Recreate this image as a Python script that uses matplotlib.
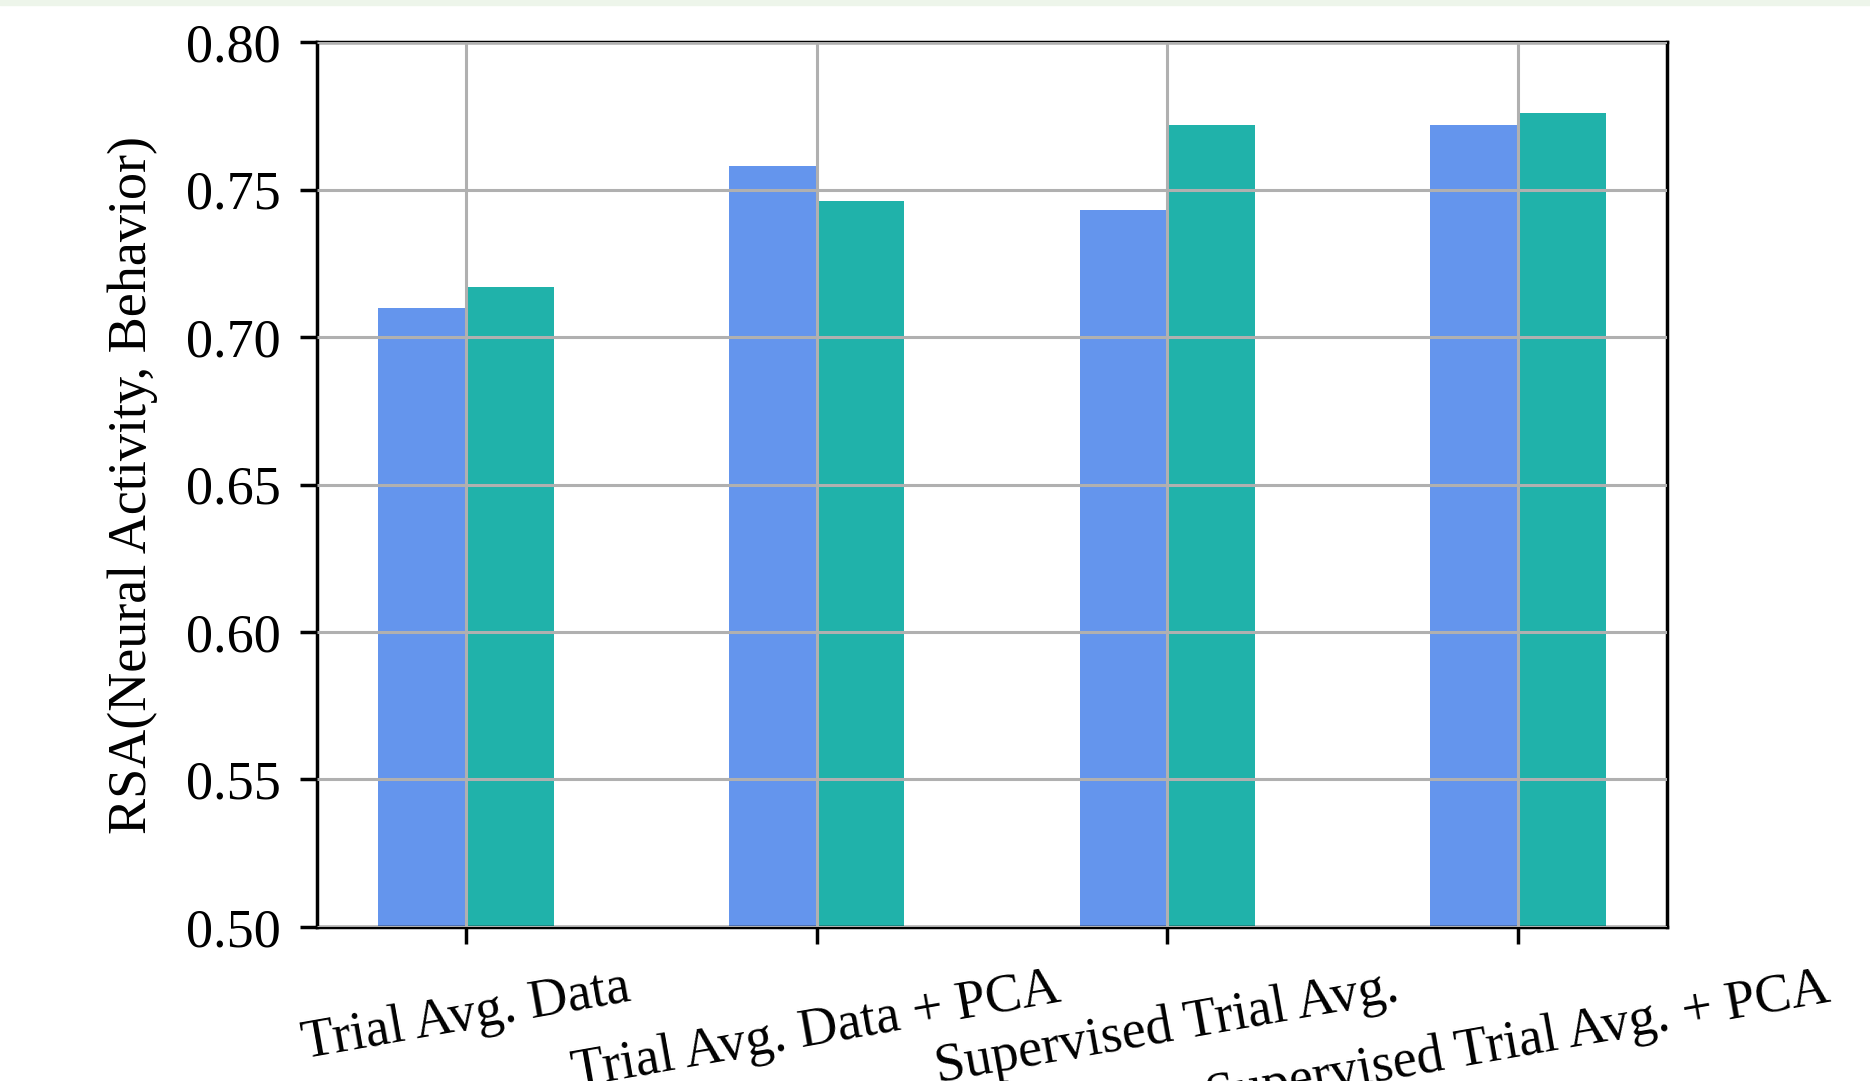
import numpy as np
import matplotlib.pyplot as plt
from matplotlib.patches import Rectangle

# data
methods = ['Trial Avg. Data', 'Trial Avg. Data + PCA',
           'Supervised Trial Avg.', 'Supervised Trial Avg. + PCA']
series_a = [0.710, 0.758, 0.743, 0.772]
series_b = [0.717, 0.746, 0.772, 0.776]
y_ticks = [0.50, 0.55, 0.60, 0.65, 0.70, 0.75, 0.80]

plt.rcParams['font.family'] = ['Liberation Serif', 'DejaVu Serif']

fig = plt.figure(figsize=(18.70, 10.81), dpi=100)
ax = fig.add_axes([0.1695, 0.1425, 0.722, 0.8186])

# light strip of the cropped title bar at the very top
fig.patches.append(Rectangle((0, 0.9955), 1, 0.0045, transform=fig.transFigure,
                             color='#edf5ea', zorder=0))

x = np.arange(len(methods))
w = 0.25
ax.bar(x - w / 2, series_a, w, color='cornflowerblue')
ax.bar(x + w / 2, series_b, w, color='lightseagreen')

ax.set_ylim(0.50, 0.80)
ax.set_yticks(y_ticks)
ax.set_yticklabels([f'{v:.2f}' for v in y_ticks])
ax.set_xticks(x)
ax.set_xticklabels(methods, rotation=10, ha='center')

ax.grid(True, color='#b0b0b0', linewidth=2.2)
ax.set_axisbelow(False)
for s in ax.spines.values():
    s.set_linewidth(2.5)
ax.tick_params(axis='both', labelsize=39, width=2.5, length=12, pad=14)
ax.set_ylabel('RSA(Neural Activity, Behavior)', fontsize=39, labelpad=20)

fig.savefig('out.png', dpi=100)
